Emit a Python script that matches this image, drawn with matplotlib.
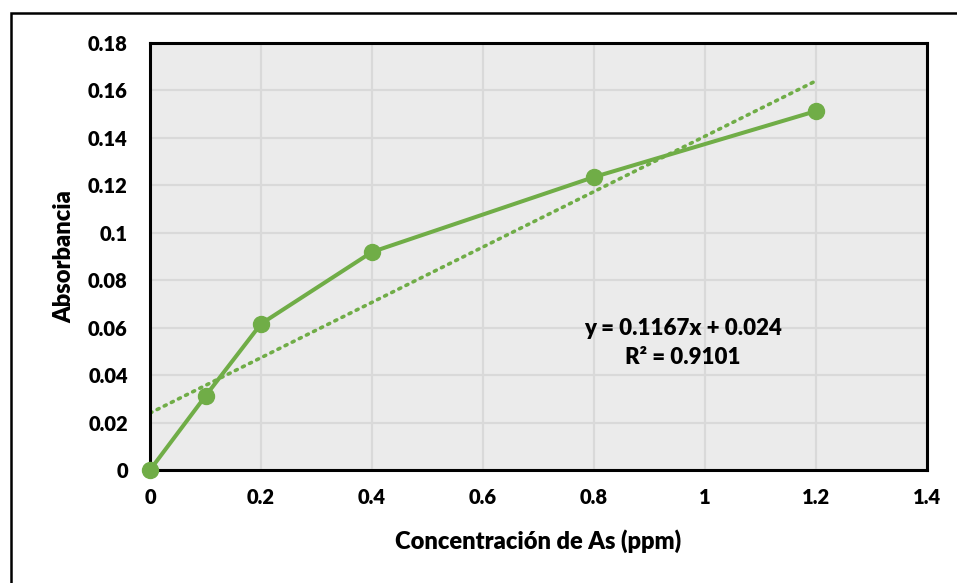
import matplotlib.pyplot as plt
import numpy as np
from matplotlib.patches import Rectangle

# data
conc = [0, 0.1, 0.2, 0.4, 0.8, 1.2]
absorb = [0.0, 0.0312, 0.0616, 0.0919, 0.1235, 0.1513]
slope = 0.1167
intercept = 0.024
eq_text = "y = 0.1167x + 0.024"
r2_text = "R² = 0.9101"
x_ticks = [0, 0.2, 0.4, 0.6, 0.8, 1, 1.2, 1.4]
x_labels = ["0", "0.2", "0.4", "0.6", "0.8", "1", "1.2", "1.4"]
y_ticks = [0, 0.02, 0.04, 0.06, 0.08, 0.1, 0.12, 0.14, 0.16, 0.18]
y_labels = ["0", "0.02", "0.04", "0.06", "0.08", "0.1", "0.12", "0.14", "0.16", "0.18"]

green = '#70AD47'

plt.rcParams['font.family'] = ['Lato', 'DejaVu Sans']
plt.rcParams['font.weight'] = 'heavy'

W, H = 957, 583
fig = plt.figure(figsize=(W / 100, H / 100), dpi=100)

# outer chart border (runs off the right and bottom edges)
fig.patches.append(Rectangle((11 / W, -0.05), 1.2, (H - 13) / H + 0.05,
                             transform=fig.transFigure, fill=False,
                             edgecolor='black', linewidth=1.8))

ax = fig.add_axes([150 / W, 1 - 470 / H, (927 - 150) / W, (470 - 43) / H])
ax.set_facecolor('#EBEBEB')
ax.grid(True, color='#D9D9D9', linewidth=1.6)
ax.set_axisbelow(True)
for s in ax.spines.values():
    s.set_linewidth(2.2)
    s.set_color('black')

# trend line
xt = np.array([conc[0], conc[-1]])
ax.plot(xt, slope * xt + intercept, color=green, linewidth=2.6,
        linestyle=(0, (0.6, 1.6)), dash_capstyle='round', zorder=2)

ax.plot(conc, absorb, color=green, linewidth=2.9, marker='o',
        markersize=11.5, clip_on=False, zorder=3)

ax.set_xlim(0, 1.4)
ax.set_ylim(0, 0.18)
ax.set_xticks(x_ticks)
ax.set_xticklabels(x_labels)
ax.set_yticks(y_ticks)
ax.set_yticklabels(y_labels)
ax.tick_params(length=0, labelsize=14.5)
ax.tick_params(axis='x', pad=13)
ax.tick_params(axis='y', pad=16)

ax.set_xlabel("Concentración de As (ppm)", fontsize=17, fontweight='heavy', labelpad=16)
ax.set_ylabel("Absorbancia", fontsize=17, fontweight='heavy', labelpad=9)

ax.text(0.96, 0.0595, eq_text, ha='center', va='center', fontsize=16, fontweight='heavy')
ax.text(0.96, 0.0475, r2_text, ha='center', va='center', fontsize=16, fontweight='heavy')

fig.savefig('out.png', dpi=100)
